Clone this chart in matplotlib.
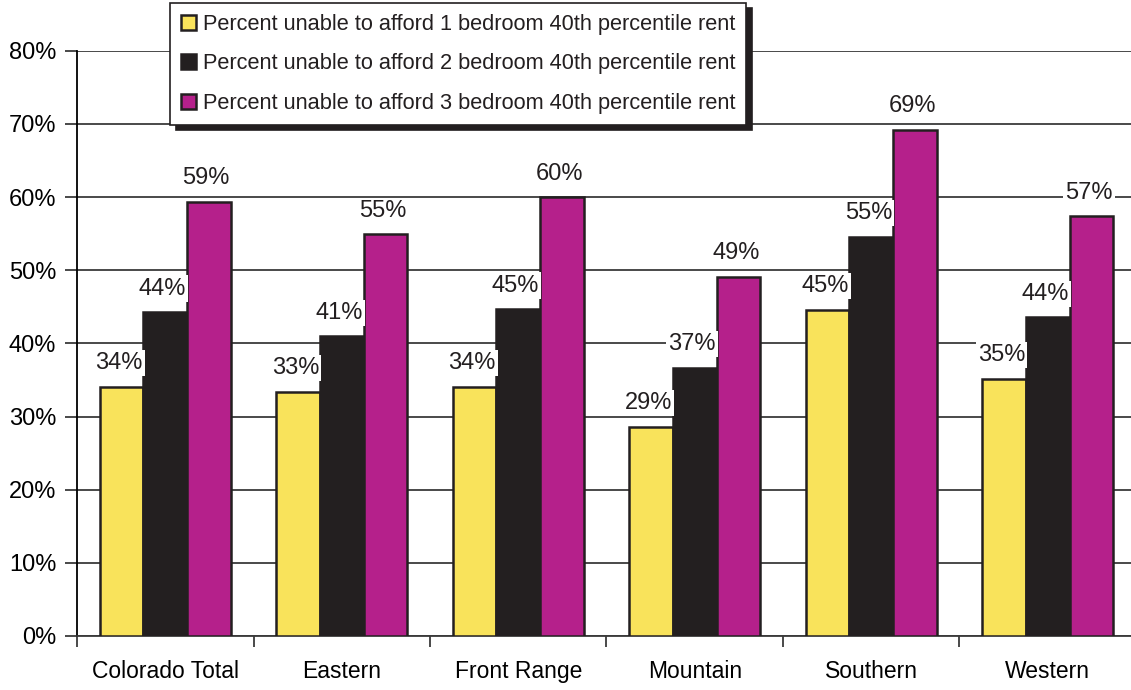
import matplotlib.pyplot as plt
import numpy as np

# Regions and survey values (percent)
regions = ['Colorado Total', 'Eastern', 'Front Range', 'Mountain', 'Southern', 'Western']
one_bed = [34.1, 33.4, 34.1, 28.6, 44.6, 35.2]
two_bed = [44.3, 41.0, 44.7, 36.7, 54.6, 43.6]
three_bed = [59.4, 54.9, 60.0, 49.1, 69.2, 57.4]
series_names = ['Percent unable to afford 1 bedroom 40th percentile rent',
                'Percent unable to afford 2 bedroom 40th percentile rent',
                'Percent unable to afford 3 bedroom 40th percentile rent']
colors = ['#F9E35B', '#231F20', '#B5208B']

plt.rcParams['font.family'] = ['Liberation Sans', 'DejaVu Sans']
plt.rcParams['text.color'] = '#231F20'

fig = plt.figure(figsize=(11.31, 6.9), dpi=100)
ax = fig.add_axes([0.0681, 0.0783, 0.9363, 0.848])

x = np.arange(len(regions))
w = 0.247
for i, vals in enumerate([one_bed, two_bed, three_bed]):
    pos = x + (i - 1) * w
    ax.bar(pos, vals, w, color=colors[i], edgecolor='#231F20', linewidth=1.8,
           label=series_names[i], zorder=3)
    for px, v in zip(pos, vals):
        ax.text(px - 0.015, v + 1.7, f'{v:.0f}%', ha='center', va='bottom', fontsize=17,
                zorder=4, bbox=dict(facecolor='white', edgecolor='none', pad=1.5))

ax.set_xlim(-0.5, len(regions) - 0.5)
ax.set_ylim(0, 80)
ax.set_yticks(range(0, 81, 10))
ax.set_yticklabels([f'{t}%' for t in range(0, 81, 10)], fontsize=17)
ax.yaxis.grid(True, color='#3a3a3a', linewidth=1.3, zorder=0)
ax.set_axisbelow(True)

# tick marks between groups, labels at group centres
ax.set_xticks(np.arange(-0.5, len(regions), 1.0))
ax.set_xticklabels([])
ax.set_xticks(x, minor=True)
ax.set_xticklabels(regions, minor=True, fontsize=16.5)
ax.tick_params(axis='x', which='minor', length=0, pad=17)
ax.tick_params(axis='x', which='major', length=8, width=1.3, color='#3a3a3a')
ax.tick_params(axis='y', length=9, width=1.3, color='#3a3a3a', pad=6)

for s in ['top', 'right']:
    ax.spines[s].set_visible(False)
ax.spines['left'].set_linewidth(1.3)
ax.spines['bottom'].set_linewidth(1.3)
ax.spines['bottom'].set_color('#3a3a3a')

leg = ax.legend(loc='upper left', bbox_to_anchor=(0.088, 1.082), fontsize=15.7,
                frameon=True, fancybox=False, edgecolor='#231F20',
                shadow={'color': '#231F20', 'alpha': 1.0, 'ox': 4, 'oy': -4},
                handlelength=0.7, handleheight=0.7, handletextpad=0.3,
                labelspacing=0.85, borderpad=0.5, borderaxespad=0)
leg.get_frame().set_linewidth(1.2)
leg.set_zorder(5)

plt.savefig('out.png', dpi=100)
